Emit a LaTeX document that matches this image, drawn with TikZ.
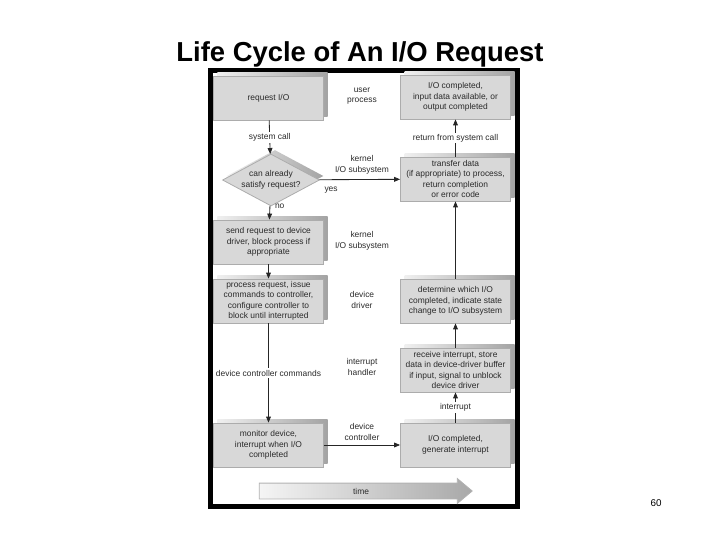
\documentclass[tikz,border=0pt]{standalone}
\usepackage{fontspec}
\setmainfont{Liberation Sans}
\usetikzlibrary{arrows.meta,shapes.geometric,shapes.arrows,shadows}
\definecolor{face}{HTML}{D8D8D8}
\definecolor{ink}{HTML}{2A2A2A}
\tikzset{
  small/.style={font=\fontsize{6}{7.5}\selectfont,text=ink},
  bevel/.style={general shadow={shadow xshift=1mm,shadow yshift=1mm,left color=gray!12,right color=gray!72,draw=none}},
  stagebox/.style={small,bevel,draw=gray!65,line width=0.2mm,fill=face,minimum width=27.5mm,minimum height=11mm,align=center,inner sep=0pt},
  asking/.style={small,bevel,diamond,draw=gray!65,line width=0.2mm,fill=face,aspect=1.9,minimum width=24.25mm,minimum height=13mm,inner sep=0pt,align=center},
  layer/.style={small,align=center},
  onwire/.style={small,fill=white,inner sep=1pt},
  flow/.style={line width=0.6pt,draw=black!85,-{Triangle[length=1.5mm,width=1.2mm]}},
  timebar/.style={small,single arrow,draw=gray!60,line width=0.2mm,left color=gray!8,right color=gray!68,minimum height=53.25mm,single arrow head extend=1.15mm,single arrow tip angle=80,inner xsep=2mm,inner ysep=1.1mm}
}
\begin{document}
\begin{tikzpicture}[x=0.25mm,y=-0.25mm]
\useasboundingbox (0,0) rectangle (720,540);
\node[font=\bfseries\fontsize{19.5}{22}\selectfont] (title) at (360,54) {Life Cycle of An I/O Request};
\draw[line width=1.25mm] (210.5,70.5) rectangle (517.5,506.5);
\node[stagebox] (req) at (268.5,98) {request I/O};
\node[asking] (ask) at (271,180) {can already\\satisfy request?};
\node[stagebox] (send) at (268.5,242) {send request to device\\driver, block process if\\appropriate};
\node[stagebox] (proc) at (268.5,301) {process request, issue\\commands to controller,\\configure controller to\\block until interrupted};
\node[stagebox] (mon) at (268.5,445) {monitor device,\\interrupt when I/O\\completed};
\node[stagebox] (fin) at (455.5,97) {I/O completed,\\input data available, or\\output completed};
\node[stagebox] (xfer) at (455.5,179) {transfer data\\(if appropriate) to process,\\return completion\\or error code};
\node[stagebox] (decide) at (455.5,301) {determine which I/O\\completed, indicate state\\change to I/O subsystem};
\node[stagebox] (isr) at (455.5,370) {receive interrupt, store\\data in device-driver buffer\\if input, signal to unblock\\device driver};
\node[stagebox] (done) at (455.5,445) {I/O completed,\\generate interrupt};
\node[layer] (lUser) at (362,96) {user\\process};
\node[layer] (lKernA) at (362,165) {kernel\\I/O subsystem};
\node[layer] (lKernB) at (362,241) {kernel\\I/O subsystem};
\node[layer] (lDrv) at (362,300) {device\\driver};
\node[layer] (lIsr) at (362,367) {interrupt\\handler};
\node[layer] (lCtl) at (362,432) {device\\controller};
\draw[flow] (req) -- node[onwire]{system call} (ask);
\draw[flow] (ask) -- node[small,anchor=west,pos=0.05]{no} (send);
\draw[flow] (ask) -- node[small,anchor=north west,pos=0,yshift=-0.5mm]{yes} (xfer);
\draw[flow] (send) -- (proc);
\draw[flow] (proc) -- node[onwire]{device controller commands} (mon);
\draw[flow] (mon) -- (done);
\draw[flow] (done) -- node[onwire]{interrupt} (isr);
\draw[flow] (isr) -- (decide);
\draw[flow] (decide) -- (xfer);
\draw[flow] (xfer) -- node[onwire]{return from system call} (fin);
\node[timebar] (time) at (361,491) {time};
\node[font=\fontsize{7}{8}\selectfont] (page) at (656,503) {60};
\end{tikzpicture}
\end{document}
